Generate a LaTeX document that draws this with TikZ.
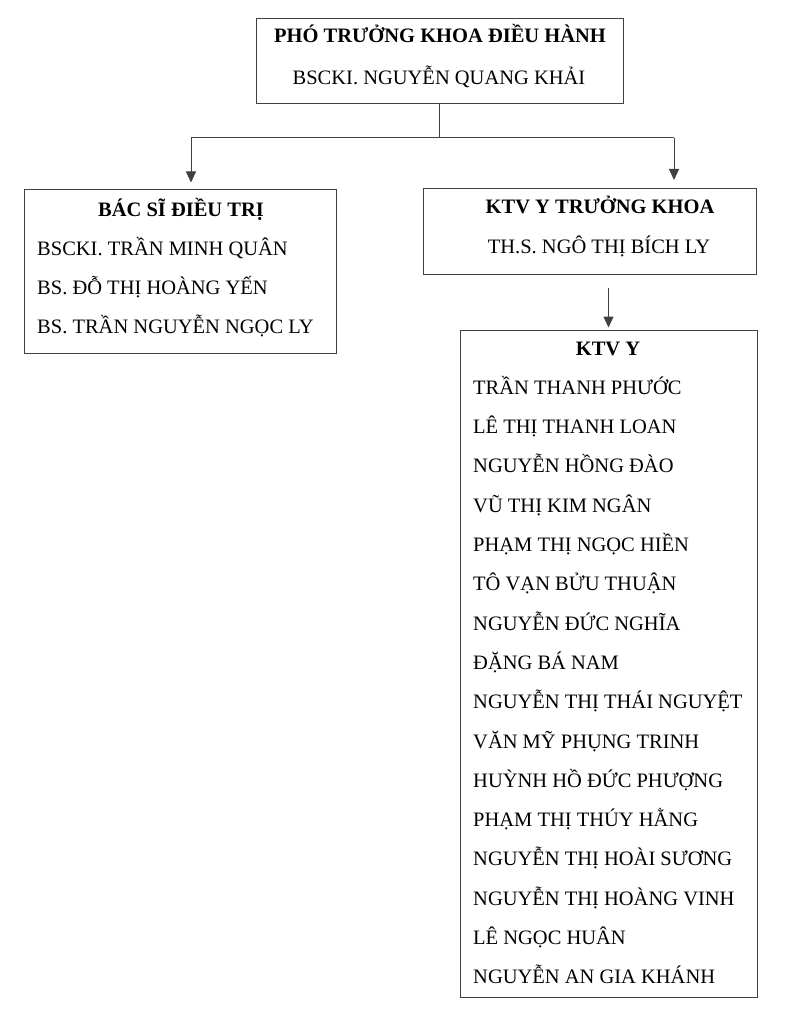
\documentclass[tikz,border=0pt]{standalone}
\usepackage{fontspec}
\setmainfont{Liberation Serif}
\usetikzlibrary{arrows.meta}
\begin{document}
\begin{tikzpicture}[x=1pt,y=-1pt,
  box/.style={draw=black!75,line width=1pt,rectangle,inner sep=0pt},
  txt/.style={inner sep=0pt,font=\fontsize{20.5}{24}\selectfont},
  ttl/.style={inner sep=0pt,font=\fontsize{20.5}{24}\selectfont\bfseries},
  conn/.style={draw=black!75,line width=1pt},
  arr/.style={conn,-{Triangle[length=11pt,width=10pt]}}]
\useasboundingbox (0,0) rectangle (798,1024);
% boxes
\node[box,minimum width=367pt,minimum height=85pt] (top) at (439.5,61.5) {};
\node[box,minimum width=312pt,minimum height=163pt] (bs) at (180,271.5) {};
\node[box,minimum width=333pt,minimum height=86pt] (ktvtk) at (589.5,231.5) {};
\node[box,minimum width=297pt,minimum height=667pt] (ktv) at (608.5,663.5) {};
% top texts
\node[ttl,anchor=base] (t1) at (440,43) {PHÓ TRƯỞNG KHOA ĐIỀU HÀNH};
\node[txt,anchor=base] (t2) at (439,85) {BSCKI. NGUYỄN QUANG KHẢI};
% left
\node[ttl,anchor=base] (b0) at (181,217) {BÁC SĨ ĐIỀU TRỊ};
\node[txt,anchor=base west] (b1) at (37,255) {BSCKI. TRẦN MINH QUÂN};
\node[txt,anchor=base west] (b2) at (37,294) {BS. ĐỖ THỊ HOÀNG YẾN};
\node[txt,anchor=base west] (b3) at (37,333) {BS. TRẦN NGUYỄN NGỌC LY};
% right
\node[ttl,anchor=base] (k0) at (600,214) {KTV Y TRƯỞNG KHOA};
\node[txt,anchor=base] (k1) at (599,253) {TH.S. NGÔ THỊ BÍCH LY};
% list
\node[ttl,anchor=base] (l0) at (608,355) {KTV Y};
\foreach \n [count=\i] in {TRẦN THANH PHƯỚC,LÊ THỊ THANH LOAN,NGUYỄN HỒNG ĐÀO,VŨ THỊ KIM NGÂN,PHẠM THỊ NGỌC HIỀN,TÔ VẠN BỬU THUẬN,NGUYỄN ĐỨC NGHĨA,ĐẶNG BÁ NAM,NGUYỄN THỊ THÁI NGUYỆT,VĂN MỸ PHỤNG TRINH,HUỲNH HỒ ĐỨC PHƯỢNG,PHẠM THỊ THÚY HẰNG,NGUYỄN THỊ HOÀI SƯƠNG,NGUYỄN THỊ HOÀNG VINH,LÊ NGỌC HUÂN,NGUYỄN AN GIA KHÁNH}
  \node[txt,anchor=base west] (l\i) at (473,{355+39.3*\i}) {\n};
% connectors
\coordinate (j) at (top.south |- 0,138);
\coordinate (jl) at (191,138);
\coordinate (jr) at (674,138);
\draw[conn] (top.south) -- (j);
\draw[conn] (jl) -- (jr);
\draw[arr,shorten >=7pt] (jl) -- (jl |- bs.north);
\draw[arr,shorten >=8pt] (jr) -- (jr |- ktvtk.north);
\draw[arr,shorten <=13pt,shorten >=2pt] (ktv.north |- ktvtk.south) -- (ktv.north);
\end{tikzpicture}
\end{document}
